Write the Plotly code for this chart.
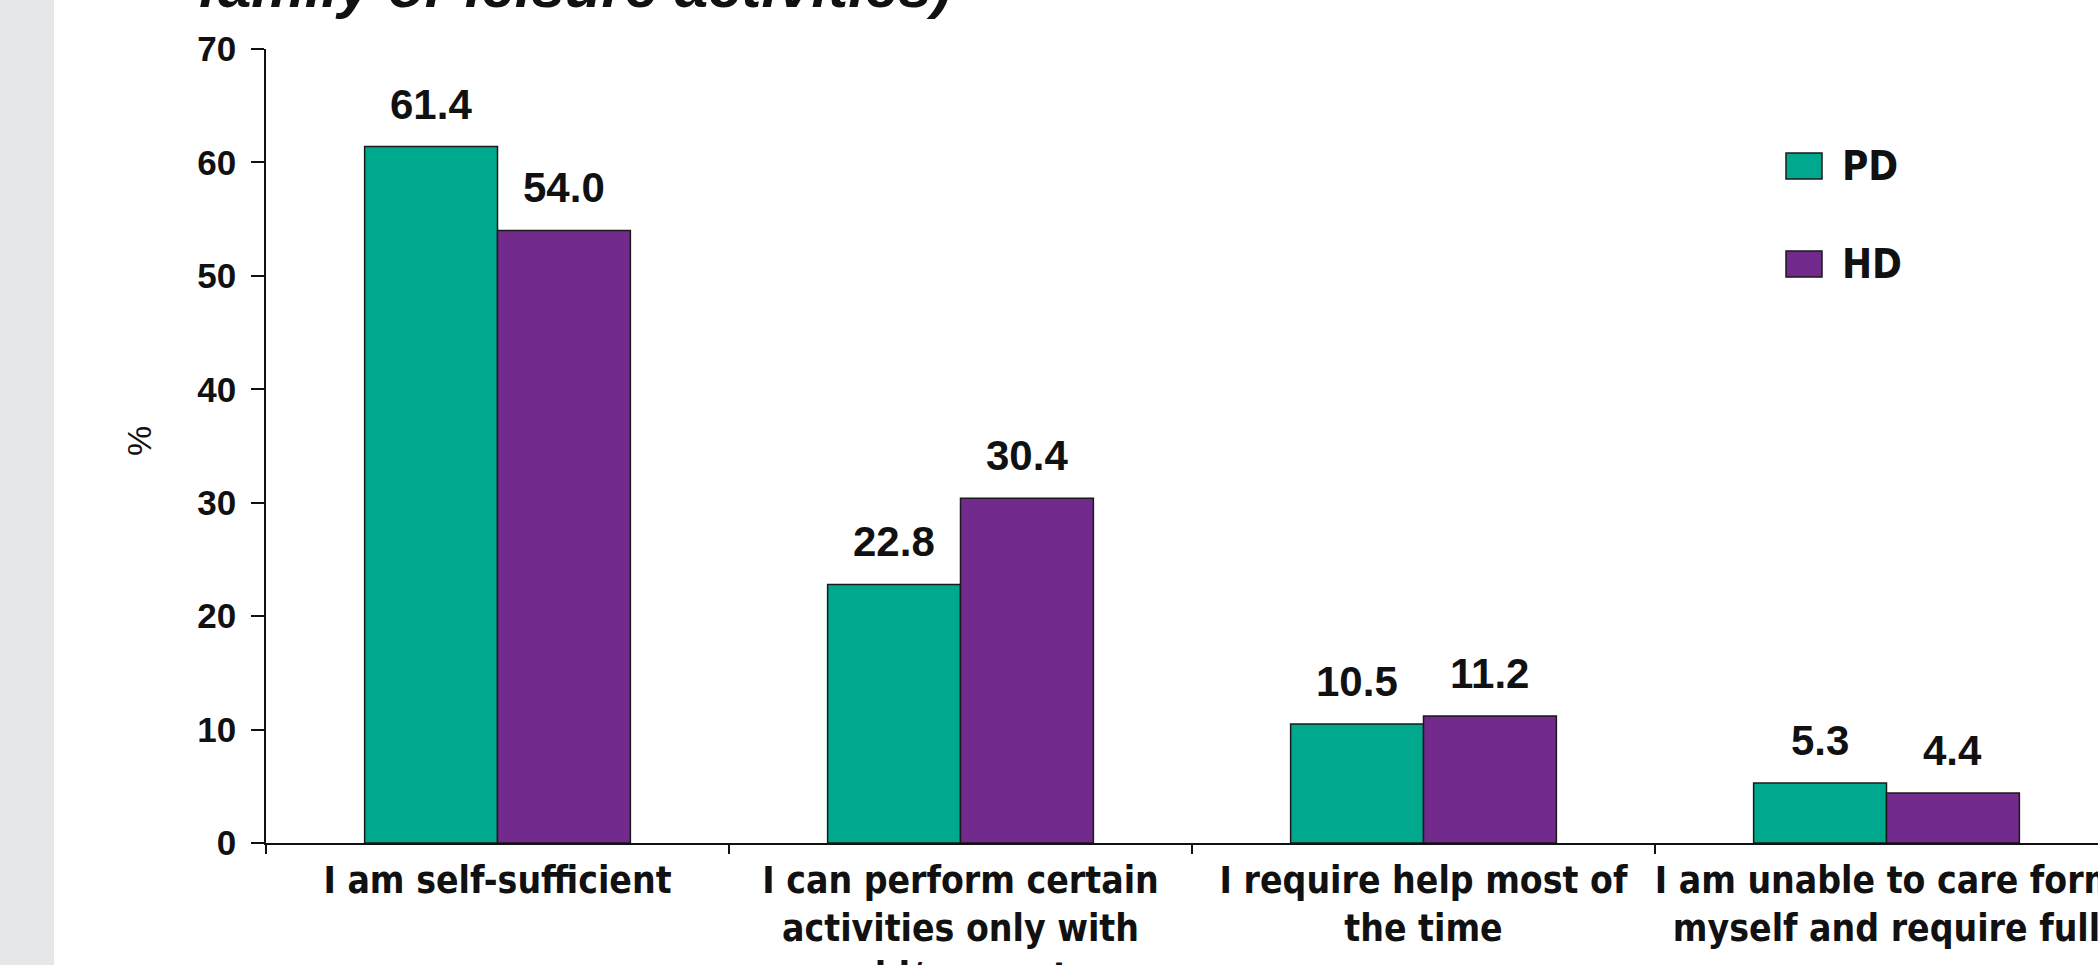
import plotly.graph_objects as go

categories = [
    "I am self-sufficient",
    "I can perform certain<br>activities only with<br>aid/support",
    "I require help most of<br>the time",
    "I am unable to care form<br>myself and require full<br>care",
]
series_names = ["PD", "HD"]
pd_values = [61.4, 22.8, 10.5, 5.3]
hd_values = [54.0, 30.4, 11.2, 4.4]
colors = ["#00A88E", "#722B8D"]
y_ticks = [0, 10, 20, 30, 40, 50, 60, 70]

W, H = 2098, 965
L, R, T, B = 266, 0, 49, 122
plot_w = W - L - R
ph = H - T - B
cat_px = 463

fig = go.Figure()
for name, vals, col in zip(series_names, [pd_values, hd_values], colors):
    fig.add_trace(go.Bar(
        x=categories, y=vals, name=name,
        marker=dict(color=col, line=dict(color="#1a1a1a", width=1.5)),
        showlegend=False,
    ))

bar_px = cat_px * 0.574 / 2
annotations = []
for k, vals in enumerate([pd_values, hd_values]):
    shift = -bar_px / 2 if k == 0 else bar_px / 2
    for c, v in zip(categories, vals):
        annotations.append(dict(
            x=c, y=v, xref="x", yref="y", text=f"<b>{v:.1f}</b>",
            showarrow=False, xshift=shift, yanchor="bottom", yshift=17,
            font=dict(family="Liberation Sans, Arial", size=42, color="#111"),
        ))

# y-axis title
annotations.append(dict(
    x=(118 - L) / plot_w, y=(843 - 441) / ph, xref="paper", yref="paper",
    text="%", textangle=-90, showarrow=False,
    font=dict(family="Liberation Sans, Arial", size=34, color="#111"),
))

# partially visible title at the top
annotations.append(dict(
    x=(196 - L) / plot_w, y=(843 - 22) / ph, xref="paper", yref="paper",
    xanchor="left", yanchor="bottom",
    text="<b><i>family or leisure activities)</i></b>", showarrow=False,
    font=dict(family="Liberation Sans, Arial", size=60, color="#111"),
))

# background strip and custom legend
shapes = [dict(type="rect", xref="paper", yref="paper",
               x0=-L / plot_w, x1=(54 - L) / plot_w, y0=-B / ph, y1=1 + T / ph,
               fillcolor="#E6E7E9", line=dict(width=0), layer="below")]
for name, col, yc in zip(series_names, colors, [166, 264]):
    shapes.append(dict(type="rect", xref="paper", yref="paper",
                       x0=(1786 - L) / plot_w, x1=(1822 - L) / plot_w,
                       y0=(843 - yc - 13) / ph, y1=(843 - yc + 13) / ph,
                       fillcolor=col, line=dict(color="#1a1a1a", width=1.5)))
    annotations.append(dict(
        x=(1840 - L) / plot_w, y=(843 - yc) / ph, xref="paper", yref="paper",
        xanchor="left", yanchor="middle", text=f"<b>{name}</b>", showarrow=False,
        font=dict(family="Liberation Sans Narrow, DejaVu Sans Condensed, Arial", size=40, color="#111"),
    ))

fig.update_layout(
    width=W, height=H,
    margin=dict(l=L, r=R, t=T, b=B, autoexpand=False),
    paper_bgcolor="white", plot_bgcolor="white",
    barmode="group", bargap=0.426, bargroupgap=0,
    annotations=annotations, shapes=shapes,
    showlegend=False,
)
fig.update_xaxes(
    range=[-0.5, -0.5 + plot_w / cat_px],
    showline=True, linecolor="#111", linewidth=1.5,
    ticks="outside", tickson="boundaries", ticklen=9, tickcolor="#111", tickwidth=1.5,
    ticklabelstandoff=4,
    tickangle=0, showgrid=False, zeroline=False,
    tickfont=dict(family="Liberation Sans Narrow, DejaVu Sans Condensed, Arial", size=37, color="#111", weight="bold"),
)
fig.update_yaxes(
    range=[0, 70], tickvals=y_ticks,
    showline=True, linecolor="#111", linewidth=1.5,
    ticks="outside", ticklen=13, tickcolor="#111", tickwidth=1.5,
    ticklabelstandoff=8,
    showgrid=False, zeroline=False,
    tickfont=dict(family="Liberation Sans, Arial", size=35, color="#111", weight="bold"),
)

fig.write_html(
    "out.html",
    config={"displayModeBar": False},
    post_script="document.body.style.margin='0';document.body.style.overflow='hidden';",
)
